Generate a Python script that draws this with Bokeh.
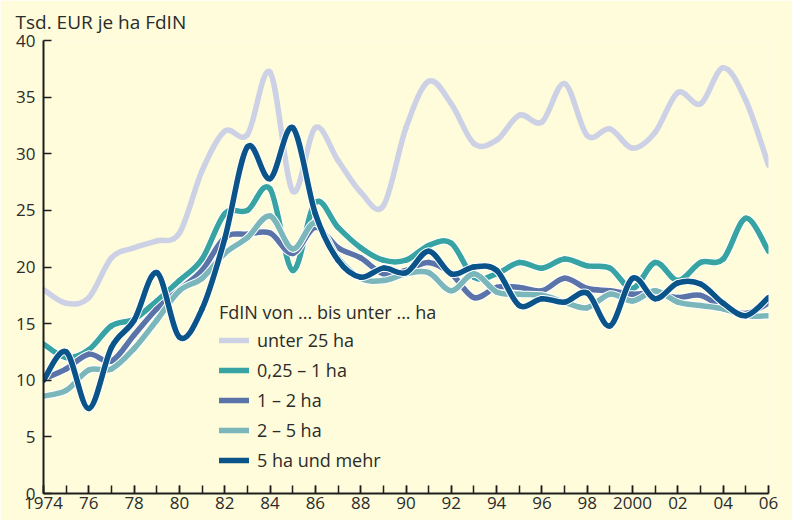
from bokeh.plotting import figure
from bokeh.models import Range1d, FixedTicker, Legend, LegendItem, ColumnDataSource
from bokeh.embed import file_html
from bokeh.resources import INLINE

years = list(range(1974, 2007))
tick_years = list(range(1974, 2007, 2))
tick_labels = ["1974", "76", "78", "80", "82", "84", "86", "88", "90", "92", "94",
               "96", "98", "2000", "02", "04", "06"]
y_ticks = [0, 5, 10, 15, 20, 25, 30, 35, 40]

names = ["unter 25 ha", "0,25 – 1 ha", "1 – 2 ha", "2 – 5 ha", "5 ha und mehr"]

unter25 = [18.0, 16.8, 17.3, 20.8, 21.7, 22.3, 23.0, 28.5, 32.0, 31.7, 37.2, 26.7, 32.3,
           29.4, 26.6, 25.4, 32.3, 36.4, 34.4, 30.9, 31.2, 33.4, 32.8, 36.2, 31.6, 32.2,
           30.5, 31.9, 35.4, 34.4, 37.6, 34.7, 29.0]
ha025_1 = [13.2, 12.0, 12.7, 14.8, 15.4, 17.0, 18.8, 20.7, 24.7, 25.0, 26.9, 19.7, 25.7,
           23.5, 21.7, 20.6, 20.6, 21.9, 22.1, 19.1, 19.4, 20.4, 19.9, 20.7, 20.1, 19.9,
           18.1, 20.4, 18.8, 20.4, 20.7, 24.3, 21.4]
ha1_2 = [10.1, 11.0, 12.3, 11.7, 14.0, 16.3, 18.0, 19.7, 22.6, 22.9, 23.0, 21.2, 23.5,
         21.7, 20.8, 19.4, 19.7, 20.4, 19.4, 17.3, 18.2, 18.2, 17.9, 19.0, 18.1, 17.9,
         17.6, 17.7, 17.3, 17.5, 16.4, 15.9, 16.8]
ha2_5 = [8.6, 9.1, 10.9, 11.0, 12.8, 15.3, 17.9, 19.0, 21.2, 22.6, 24.5, 21.6, 23.9,
         20.8, 19.0, 18.8, 19.4, 19.5, 17.9, 19.4, 17.8, 17.6, 17.5, 16.9, 16.4, 17.6,
         17.0, 17.9, 16.9, 16.6, 16.3, 15.7, 15.7]
ha5plus = [10.0, 12.5, 7.5, 12.9, 15.3, 19.5, 13.8, 16.3, 22.5, 30.6, 27.8, 32.3, 24.7,
           20.6, 19.1, 19.9, 19.5, 21.4, 19.4, 20.0, 19.7, 16.6, 17.2, 16.9, 17.7, 14.8,
           19.0, 17.2, 18.6, 18.5, 16.8, 15.7, 17.3]

series = [unter25, ha025_1, ha1_2, ha2_5, ha5plus]
colors = ["#CDD1E5", "#37A3A2", "#5A73A8", "#7BB7BA", "#0A5489"]

BG = "#FEFCDA"
TXT = "#2B2B2B"
FONT = "Open Sans"


def bezier_source(xs, ys):
    n = len(xs)
    d = dict(x0=[], y0=[], x1=[], y1=[], cx0=[], cy0=[], cx1=[], cy1=[])
    for i in range(n - 1):
        a = max(i - 1, 0)
        b = min(i + 2, n - 1)
        d["x0"].append(xs[i]); d["y0"].append(ys[i])
        d["x1"].append(xs[i + 1]); d["y1"].append(ys[i + 1])
        d["cx0"].append(xs[i] + (xs[i + 1] - xs[a]) / 6.0)
        d["cy0"].append(ys[i] + (ys[i + 1] - ys[a]) / 6.0)
        d["cx1"].append(xs[i + 1] - (xs[b] - xs[i]) / 6.0)
        d["cy1"].append(ys[i + 1] - (ys[b] - ys[i]) / 6.0)
    return ColumnDataSource(d)


p = figure(width=792, height=520, x_range=Range1d(1974, 2006), y_range=Range1d(0, 40),
           output_backend="svg", toolbar_location=None,
           min_border_left=43, min_border_right=24, min_border_top=40, min_border_bottom=27,
           background_fill_color=BG, border_fill_color=BG, outline_line_color=None)

p.title.text = "Tsd. EUR je ha FdIN"
p.title.align = "left"
p.title.offset = -28
p.title.standoff = 12
p.title.text_font = FONT
p.title.text_font_size = "19px"
p.title.text_font_style = "normal"
p.title.text_color = TXT

p.xgrid.visible = False
p.ygrid.visible = False

items = []
for ys, col, name in zip(series, colors, names):
    src = bezier_source(years, ys)
    if col != colors[0]:
        p.bezier(x0="x0", y0="y0", x1="x1", y1="y1", cx0="cx0", cy0="cy0",
                 cx1="cx1", cy1="cy1", source=src, line_color="white",
                 line_width=7.5, line_cap="round")
    r = p.bezier(x0="x0", y0="y0", x1="x1", y1="y1", cx0="cx0", cy0="cy0",
                 cx1="cx1", cy1="cy1", source=src, line_color=col,
                 line_width=5.5, line_cap="round")
    items.append(LegendItem(label=name, renderers=[r]))

# x axis
xa = p.xaxis[0]
xa.ticker = FixedTicker(ticks=tick_years, minor_ticks=years)
xa.major_label_overrides = {y: l for y, l in zip(tick_years, tick_labels)}
xa.major_tick_in = 8
xa.major_tick_out = 0
xa.minor_tick_in = 8
xa.minor_tick_out = 0
xa.axis_line_width = 2
xa.major_tick_line_width = 1.5
xa.minor_tick_line_width = 1.5
xa.axis_line_color = "#1E1E1E"
xa.major_tick_line_color = "#1E1E1E"
xa.minor_tick_line_color = "#1E1E1E"
xa.major_label_text_font = FONT
xa.major_label_text_font_size = "17px"
xa.major_label_text_color = TXT
xa.major_label_standoff = 3

ya = p.yaxis[0]
ya.ticker = FixedTicker(ticks=y_ticks, minor_ticks=[])
ya.major_tick_in = 8
ya.major_tick_out = 0
ya.minor_tick_in = 0
ya.minor_tick_out = 0
ya.axis_line_width = 2
ya.major_tick_line_width = 1.5
ya.axis_line_color = "#1E1E1E"
ya.major_tick_line_color = "#1E1E1E"
ya.major_label_text_font = FONT
ya.major_label_text_font_size = "17px"
ya.major_label_text_color = TXT
ya.major_label_standoff = 8

legend = Legend(items=items, title="FdIN von ... bis unter ... ha", location=(176, 21),
                background_fill_alpha=0, border_line_alpha=0, padding=0, margin=0,
                spacing=6, glyph_width=30, glyph_height=20, label_height=20,
                label_standoff=8, label_text_font=FONT, label_text_font_size="18px",
                label_text_color=TXT, title_text_font=FONT, title_text_font_size="18px",
                title_text_font_style="normal", title_text_color=TXT, title_standoff=4)
p.add_layout(legend)

open("out.html", "w").write(file_html(p, INLINE))
